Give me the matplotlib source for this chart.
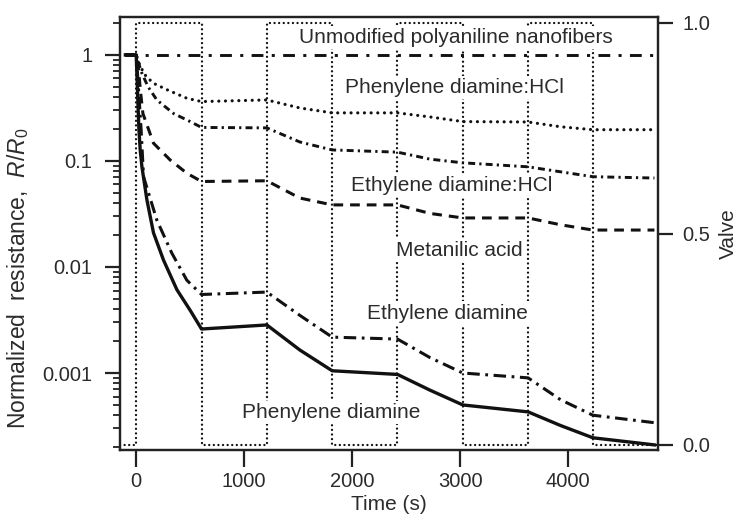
import matplotlib
matplotlib.use("Agg")
import matplotlib.pyplot as plt
from matplotlib.ticker import LogLocator, NullFormatter

plt.rcParams['font.family'] = ['Liberation Sans', 'DejaVu Sans']
plt.rcParams['mathtext.fontset'] = 'custom'
plt.rcParams['mathtext.rm'] = 'Liberation Sans'
plt.rcParams['mathtext.it'] = 'Liberation Sans:italic'
plt.rcParams['lines.scale_dashes'] = False

txt = '#2b2b2b'

# valve signal (right axis), steps-post
valve_t = [-150, 0, 605, 1210, 1815, 2420, 3025, 3630, 4230, 4830]
valve_state = [0, 1, 0, 1, 0, 1, 0, 1, 0, 0]

# normalized resistance curves
unmod_t = [-100, 4800]
unmod_r = [1, 1]

pdhcl_t = [-100, 0, 37, 90, 160, 284, 469, 605, 1210, 1515, 1815, 2420, 2720, 3025, 3630, 3930, 4230, 4800]
pdhcl_r = [1, 1, 0.78, 0.63, 0.54, 0.47, 0.39, 0.363, 0.376, 0.316, 0.284, 0.284, 0.26, 0.235, 0.233, 0.21, 0.197, 0.197]

edhcl_t = [-100, 0, 20, 53, 110, 191, 346, 500, 605, 1210, 1515, 1815, 2420, 2720, 3025, 3630, 3930, 4230, 4800]
edhcl_r = [1, 1, 0.85, 0.67, 0.5, 0.376, 0.28, 0.235, 0.207, 0.205, 0.151, 0.127, 0.121, 0.104, 0.096, 0.088, 0.079, 0.071, 0.069]

meta_t = [-100, 0, 20, 40, 62, 160, 315, 469, 605, 1210, 1515, 1815, 2420, 2720, 3025, 3630, 3930, 4230, 4800]
meta_r = [1, 1, 0.75, 0.45, 0.28, 0.147, 0.102, 0.0766, 0.064, 0.065, 0.0447, 0.0385, 0.0385, 0.032, 0.029, 0.029, 0.025, 0.0223, 0.0223]

ed_t = [-100, 0, 15, 30, 45, 68, 191, 330, 469, 605, 1210, 1515, 1815, 2420, 2720, 3025, 3630, 3930, 4230, 4800]
ed_r = [1, 1, 0.6, 0.35, 0.2, 0.071, 0.0277, 0.0135, 0.0075, 0.0055, 0.0058, 0.0035, 0.00218, 0.00209, 0.0014, 0.001, 0.0009, 0.00056, 0.0004, 0.00034]

pd_t = [-100, 0, 8, 16, 25, 37, 53, 99, 160, 253, 377, 500, 605, 1210, 1515, 1815, 2420, 2720, 3025, 3630, 3930, 4230, 4800]
pd_r = [1, 1, 0.6, 0.35, 0.2, 0.127, 0.088, 0.043, 0.021, 0.0116, 0.0061, 0.0039, 0.0026, 0.00284, 0.00165, 0.00105, 0.00097, 0.00069, 0.0005, 0.00043, 0.00032, 0.000245, 0.00021]

labels = ['Unmodified polyaniline nanofibers', 'Phenylene diamine:HCl', 'Ethylene diamine:HCl',
          'Metanilic acid', 'Ethylene diamine', 'Phenylene diamine']
label_x = [2960, 2950, 2925, 2990, 2885, 1810]
label_y = [1.45, 0.49, 0.059, 0.0142, 0.00368, 0.000428]

fig = plt.figure(figsize=(7.39, 5.23), dpi=100)
ax = fig.add_axes([0.1624, 0.1396, 0.728, 0.828])
ax2 = ax.twinx()

k = '#111111'
ax.plot(unmod_t, unmod_r, color=k, lw=2.1, dashes=(8.5, 6, 2.2, 6))
ax.plot(pdhcl_t, pdhcl_r, color=k, lw=2.3, dashes=(0.01, 4.8), dash_capstyle='round')
ax.plot(edhcl_t, edhcl_r, color=k, lw=2.1, dashes=(5, 3, 1.6, 3))
ax.plot(meta_t, meta_r, color=k, lw=2.2, dashes=(7, 5))
ax.plot(ed_t, ed_r, color=k, lw=2.2, dashes=(9, 4, 2, 4))
ax.plot(pd_t, pd_r, color=k, lw=2.4)

ax.set_yscale('log')
ax.set_xlim(-150, 4833)
ax.set_ylim(1.88e-4, 2.28)
ax.set_xticks([0, 1000, 2000, 3000, 4000])
ax.set_yticks([0.001, 0.01, 0.1, 1])
ax.set_yticklabels(['0.001', '0.01', '0.1', '1'])
ax.yaxis.set_minor_locator(LogLocator(base=10, subs=range(2, 10), numticks=20))
ax.yaxis.set_minor_formatter(NullFormatter())

ax2.plot(valve_t, valve_state, color=k, lw=1.7, drawstyle='steps-post',
         dashes=(0.01, 3.3), dash_capstyle='round')
ax2.set_ylim(-0.012, 1.014)
ax2.set_yticks([0.0, 0.5, 1.0])
ax2.set_yticklabels(['0.0', '0.5', '1.0'])

for s, x, y in zip(labels, label_x, label_y):
    ax2.text(x, y, s, transform=ax.transData, ha='center', va='center', fontsize=15,
             color=txt, bbox=dict(facecolor='white', edgecolor='none', pad=1.5))

for a in (ax, ax2):
    for sp in a.spines.values():
        sp.set_linewidth(1.6)
        sp.set_color('#222222')

ax.tick_params(axis='y', which='major', length=10.8, width=1.6, pad=9, labelsize=14.5, colors='#222222', labelcolor=txt)
ax.tick_params(axis='y', which='minor', length=5, width=1.3, colors='#222222')
ax.tick_params(axis='x', which='major', length=12, width=1.6, pad=4, labelsize=14.5, colors='#222222', labelcolor=txt)
ax2.tick_params(axis='y', which='major', length=10.8, width=1.6, pad=7, labelsize=14.5, colors='#222222', labelcolor=txt)

ax.set_xlabel('Time (s)', fontsize=15, color=txt, labelpad=3)
ax.set_ylabel(r'Normalized  resistance,  $R/R_\mathrm{0}$', fontsize=16.5, color=txt)
ax.yaxis.set_label_coords(-0.165, 0.397)
ax2.set_ylabel('Valve', fontsize=15, color=txt)
ax2.yaxis.set_label_coords(1.113, 0.5)

fig.savefig('out.png', dpi=100)
